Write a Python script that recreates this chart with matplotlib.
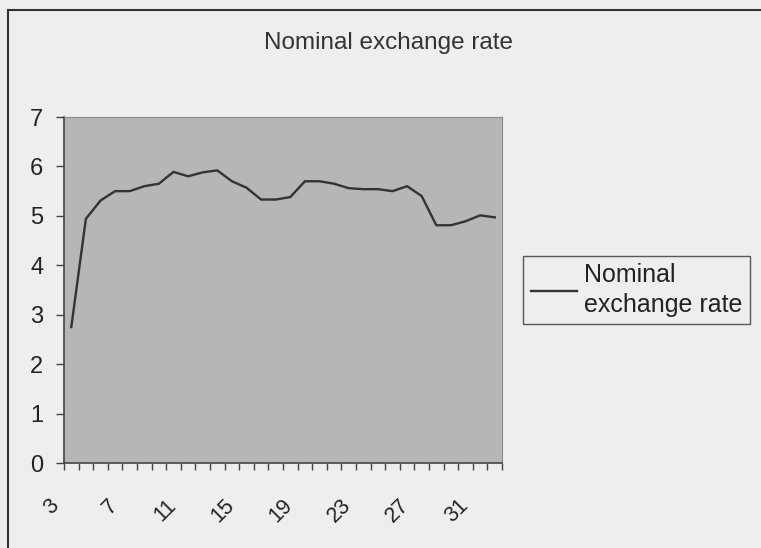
import matplotlib
matplotlib.use("Agg")
import matplotlib.pyplot as plt
import matplotlib.transforms as mtransforms
from matplotlib.patches import Rectangle

plt.rcParams['font.family'] = ['Liberation Sans', 'DejaVu Sans']

periods = list(range(3, 33))
nominal_rate = [2.75, 4.94, 5.31, 5.50, 5.50, 5.60, 5.65, 5.89, 5.80, 5.88,
                5.92, 5.70, 5.57, 5.33, 5.33, 5.38, 5.70, 5.70, 5.65, 5.56,
                5.54, 5.54, 5.50, 5.60, 5.40, 4.81, 4.81, 4.89, 5.01, 4.97]
label_periods = [3, 7, 11, 15, 19, 23, 27, 31]
y_ticks = [0, 1, 2, 3, 4, 5, 6, 7]

bg = '#eeeeee'
fig = plt.figure(figsize=(7.61, 5.48), dpi=100, facecolor=bg)
ax = fig.add_axes([64 / 761, 85 / 548, 438 / 761, 346 / 548])
ax.set_facecolor('#b6b6b6')

ax.plot(periods, nominal_rate, color='#333333', lw=1.7, label='Nominal\nexchange rate')

ax.set_xlim(periods[0] - 0.5, periods[-1] + 0.5)
ax.set_ylim(0, 7)
ax.set_yticks(y_ticks)
ax.set_yticklabels([str(v) for v in y_ticks], fontsize=17, color='#222222')
ax.tick_params(axis='y', direction='out', length=6, width=1, color='#444444', pad=9)

ax.set_xticks(label_periods)
ax.set_xticklabels([str(v) for v in label_periods], fontsize=15.5, color='#222222',
                   rotation=45, ha='right', va='top')
ax.set_xticks([p - 0.5 for p in periods] + [periods[-1] + 0.5], minor=True)
ax.tick_params(axis='x', which='major', length=0, pad=23)
ax.tick_params(axis='x', which='minor', direction='out', length=5, width=1, color='#444444')
shift = mtransforms.ScaledTranslation(-8 / 100, 0, fig.dpi_scale_trans)
for lbl in ax.get_xticklabels():
    lbl.set_transform(lbl.get_transform() + shift)

ax.spines['left'].set_color('#444444')
ax.spines['bottom'].set_color('#444444')
ax.spines['left'].set_linewidth(1.2)
ax.spines['bottom'].set_linewidth(1.2)
ax.spines['top'].set_color('#888888')
ax.spines['right'].set_color('#888888')

fig.text(388 / 761, 1 - 48.5 / 548, 'Nominal exchange rate', fontsize=17.5,
         color='#333333', ha='center', va='baseline')

leg = ax.legend(loc='center left', bbox_to_anchor=(523 / 761, 1 - 290 / 548),
                bbox_transform=fig.transFigure, fontsize=18, frameon=True,
                fancybox=False, handlelength=1.85, handletextpad=0.3,
                borderpad=0.3, borderaxespad=0)
leg.get_frame().set_facecolor(bg)
leg.get_frame().set_edgecolor('#333333')
leg.get_frame().set_linewidth(1)
for t in leg.get_texts():
    t.set_color('#222222')
    t.set_linespacing(1.3)

fig.patches.append(Rectangle((8 / 761, -0.1), 1.2, 1 - 10 / 548 + 0.1,
                             transform=fig.transFigure, fill=False,
                             edgecolor='#333333', lw=1.5))

fig.savefig('out.png', dpi=100, facecolor=bg)
